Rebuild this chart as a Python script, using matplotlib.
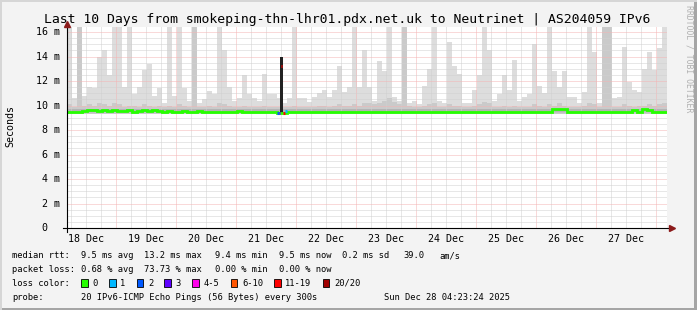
import matplotlib
matplotlib.use("Agg")
import matplotlib.pyplot as plt
import matplotlib.dates as mdates
import matplotlib.transforms as mtransforms
from matplotlib.ticker import MultipleLocator
from matplotlib.patches import Rectangle
from datetime import datetime, timedelta

# ---- data (ms), one value per 2 hour bin starting at t_start ----
t_start = datetime(2025, 12, 18, 4, 23, 24)
t_end = datetime(2025, 12, 28, 4, 23, 24)
bin_hours = 2

smoke_max = [
    16.4, 10.6, 16.4, 10.8, 11.5, 11.4, 14.0, 14.5, 12.5, 16.4, 16.4, 11.5, 16.4, 10.9, 11.5, 12.9, 13.4, 10.8, 11.4, 10.2,
    16.4, 10.8, 16.4, 11.4, 10.4, 16.4, 10.2, 10.5, 11.2, 10.9, 16.4, 14.5, 11.5, 10.4, 10.6, 12.5, 10.9, 10.6, 10.4, 12.6,
    10.9, 10.9, 10.6, 10.2, 10.6, 16.4, 10.6, 10.6, 10.3, 10.7, 11.0, 11.3, 10.7, 11.3, 13.2, 11.1, 11.5, 16.4, 11.5, 14.5,
    11.5, 10.4, 13.6, 12.8, 16.4, 10.7, 10.4, 16.4, 10.2, 10.4, 10.1, 11.6, 13.0, 16.4, 10.4, 10.2, 15.2, 13.2, 12.6, 10.2,
    10.2, 11.3, 12.5, 16.4, 14.5, 10.4, 10.9, 12.5, 11.3, 13.7, 10.4, 10.7, 10.9, 15.0, 11.6, 11.0, 16.4, 12.8, 11.5, 12.8,
    10.7, 10.7, 10.2, 11.1, 16.4, 14.4, 10.2, 16.4, 16.4, 10.6, 10.7, 14.8, 11.9, 11.3, 11.1, 13.0, 14.4, 12.9, 14.7, 16.4,
]
smoke_mid = [
    10.1, 9.9, 16.4, 10.0, 10.1, 10.0, 10.2, 10.1, 10.0, 10.2, 10.1, 9.9, 10.0, 10.0, 9.9, 10.1, 10.0, 9.9, 10.0, 9.9,
    10.0, 9.9, 10.1, 10.0, 9.9, 16.4, 9.9, 9.9, 10.0, 9.9, 10.2, 10.1, 10.0, 9.9, 9.9, 10.0, 9.9, 9.9, 9.9, 10.0,
    9.9, 9.9, 9.9, 9.9, 9.9, 10.0, 9.9, 9.9, 9.9, 9.9, 10.0, 10.0, 9.9, 10.0, 10.1, 10.0, 10.0, 10.1, 10.0, 10.2,
    10.2, 10.1, 10.2, 10.4, 10.6, 10.3, 10.1, 16.4, 10.0, 9.9, 9.9, 10.0, 10.1, 10.2, 9.9, 9.9, 10.1, 10.0, 10.0, 9.9,
    9.9, 10.0, 10.1, 10.3, 10.2, 9.9, 9.9, 10.0, 9.9, 10.0, 9.9, 9.9, 9.9, 10.1, 10.0, 9.9, 10.1, 10.0, 10.2, 10.0,
    9.9, 9.9, 9.9, 10.0, 10.2, 10.1, 9.9, 16.4, 16.4, 9.9, 9.9, 10.1, 10.0, 9.9, 10.0, 10.0, 10.1, 10.0, 10.1, 10.2,
]
median_rtt = [
    9.45, 9.45, 9.5, 9.55, 9.6, 9.6, 9.55, 9.6, 9.55, 9.6, 9.55, 9.55, 9.6, 9.5, 9.55, 9.6, 9.55, 9.6, 9.55, 9.5,
    9.55, 9.5, 9.5, 9.55, 9.5, 9.5, 9.55, 9.5, 9.5, 9.5, 9.5, 9.5, 9.5, 9.5, 9.55, 9.5, 9.5, 9.5, 9.5, 9.5,
    9.5, 9.5, 9.4, 9.4, 9.5, 9.5, 9.5, 9.5, 9.5, 9.5, 9.5, 9.5, 9.5, 9.5, 9.5, 9.5, 9.5, 9.5, 9.5, 9.5,
    9.5, 9.5, 9.5, 9.5, 9.5, 9.5, 9.5, 9.5, 9.5, 9.5, 9.5, 9.5, 9.5, 9.5, 9.5, 9.5, 9.5, 9.5, 9.5, 9.5,
    9.5, 9.5, 9.5, 9.5, 9.5, 9.5, 9.5, 9.5, 9.5, 9.5, 9.5, 9.5, 9.5, 9.5, 9.5, 9.5, 9.5, 9.7, 9.75, 9.7,
    9.5, 9.5, 9.5, 9.5, 9.5, 9.5, 9.5, 9.5, 9.5, 9.5, 9.5, 9.5, 9.5, 9.65, 9.5, 9.7, 9.6, 9.5, 9.5, 9.5,
]
smoke_floor = 9.3
dark_band = (9.38, 9.68)

# short loss events around the Dec 21 spike (hours after t_start)
event_start_h = [83.8, 84.6, 85.6, 86.4, 87.2]
event_end_h = [84.6, 85.2, 86.2, 87.2, 88.0]
event_median = [9.4, 9.4, 13.2, 9.4, 9.55]
event_loss = ["2", "3", "11-19", "11-19", "1"]
spike_h = (85.2, 86.4)
spike_range = (9.4, 14.0)

loss_labels = ["0", "1", "2", "3", "4-5", "6-10", "11-19", "20/20"]
loss_colors = ["#26ff00", "#00b8ff", "#0059ff", "#5e00ff", "#ff00ea", "#ff5500", "#ff0000", "#a10000"]
loss_swatch_x = [81, 109, 136.7, 164.3, 192.3, 230.7, 274, 322.7]

rtt_stats = ["9.5 ms avg", "13.2 ms max", "9.4 ms min", "9.5 ms now", "0.2 ms sd"]
loss_stats = ["0.68 % avg", "73.73 % max", "0.00 % min", "0.00 % now"]
stat_x = [80.7, 144.3, 215, 279.3, 342]

W, H = 697, 310
MONO = "DejaVu Sans Mono"


def px(x, y):
    return x / W, 1 - y / H


fig = plt.figure(figsize=(W / 100, H / 100), dpi=100)
fig.patch.set_facecolor("#F3F3F3")

# shaded frame
fig.add_artist(Rectangle((0, 0), 1, 2 / H, transform=fig.transFigure, color="#A5A5A5", lw=0))
fig.add_artist(Rectangle((1 - 3 / W, 0), 3 / W, 1, transform=fig.transFigure, color="#A5A5A5", lw=0))
fig.add_artist(Rectangle((0, 1 - 2 / H), 1, 2 / H, transform=fig.transFigure, color="#D6D6D6", lw=0))
fig.add_artist(Rectangle((0, 0), 2 / W, 1, transform=fig.transFigure, color="#D6D6D6", lw=0))

ax = fig.add_axes([67 / W, 82 / H, 600 / W, 201 / H])
ax.set_facecolor("white")
for s in ax.spines.values():
    s.set_visible(False)

bin_times = [t_start + timedelta(hours=bin_hours * i) for i in range(len(smoke_max))]
x = mdates.date2num(bin_times)
bw = bin_hours / 24

ax.bar(x, [v - smoke_floor for v in smoke_max], width=bw, bottom=smoke_floor,
       align="edge", color="#DDDDDD", lw=0, zorder=1)
ax.bar(x, [v - smoke_floor for v in smoke_mid], width=bw, bottom=smoke_floor,
       align="edge", color="#CACACA", lw=0, zorder=1.1)
ax.fill_between([x[0], x[-1] + bw], dark_band[0], dark_band[1], color="#B4B4B4", lw=0, zorder=1.2)

s0 = mdates.date2num(t_start + timedelta(hours=spike_h[0]))
s1 = mdates.date2num(t_start + timedelta(hours=spike_h[1]))
ax.bar(s0, spike_range[1] - spike_range[0], width=s1 - s0, bottom=spike_range[0],
       align="edge", color="#222222", lw=0, zorder=2.7)

edges = list(x) + [x[-1] + bw]
ax.stairs(median_rtt, edges, baseline=None, color=loss_colors[0], lw=2.0, zorder=3)
for a, b, m, l in zip(event_start_h, event_end_h, event_median, event_loss):
    ax.hlines(m, mdates.date2num(t_start + timedelta(hours=a)),
              mdates.date2num(t_start + timedelta(hours=b)),
              color=loss_colors[loss_labels.index(l)], lw=2.2, zorder=3.1)

ax.set_xlim(mdates.date2num(t_start), mdates.date2num(t_end))
ax.set_ylim(0, 16.41)

# grid: 1px on / 1px off dots (dash lengths scale with lw)
dots = (0, (1, 1))
ax.set_axisbelow(False)
ax.yaxis.set_major_locator(MultipleLocator(2))
ax.yaxis.set_minor_locator(MultipleLocator(0.5))
ax.xaxis.set_major_locator(mdates.HourLocator(byhour=[12]))
ax.xaxis.set_minor_locator(mdates.HourLocator(byhour=[6, 12, 18]))
ax.xaxis.remove_overlapping_locs = False
ax.xaxis.set_major_formatter(mdates.DateFormatter("%d %b"))
ax.grid(which="minor", color="#D0D0D0", lw=0.72, linestyle=dots)
ax.grid(which="major", axis="y", color="#F4B4B4", lw=0.72, linestyle=dots)
for d in range(19, 29):
    ax.axvline(mdates.date2num(datetime(2025, 12, d)), color="#F4B4B4", lw=0.72, linestyle=dots, zorder=2.5)

ax.tick_params(which="both", length=0)
ax.tick_params(axis="y", labelleft=False)
ax.tick_params(axis="x", which="major", pad=4.6, labelsize=7.2)
for lab in ax.get_xticklabels():
    lab.set_fontfamily(MONO)

ylab_tr = mtransforms.offset_copy(ax.get_yaxis_transform(), fig=fig, x=-7, y=-3, units="dots")
for v in range(0, 17, 2):
    ax.text(-0.0208 if v == 0 else 0, v, "0" if v == 0 else f"{v} m", transform=ylab_tr,
            ha="right", va="baseline", fontsize=7.2, family=MONO)

# axes with arrows
ax.plot([0, 0], [-0.02, 1.02], color="black", lw=0.8, transform=ax.transAxes, clip_on=False, zorder=4)
ax.plot([-0.007, 1.008], [0, 0], color="black", lw=0.8, transform=ax.transAxes, clip_on=False, zorder=4)
ax.plot([0], [1.016], marker="^", ms=5, color="#8B1A1A", transform=ax.transAxes, clip_on=False, zorder=5)
ax.plot([1.008], [0], marker=">", ms=5, color="#8B1A1A", transform=ax.transAxes, clip_on=False, zorder=5)

# titles
fig.text(*px(347.5, 22.7), "Last 10 Days from smokeping-thn-lhr01.pdx.net.uk to Neutrinet | AS204059 IPv6",
         ha="center", va="baseline", fontsize=9.45, family=MONO)
fig.text(*px(10.5, 126), "Seconds", rotation=90, ha="center", va="center", fontsize=7.2, family=MONO)
fig.text(*px(688.5, 59), "RRDTOOL / TOBI OETIKER", rotation=270, ha="center", va="center",
         fontsize=5.9, family=MONO, color="#B0B0B0")

# legend
fs = 6.3
rows = [258.3, 271.8, 285.8, 300]
fig.text(*px(12.3, rows[0]), "median rtt:", fontsize=fs, family=MONO, va="baseline")
for sx, t in zip(stat_x, rtt_stats):
    fig.text(*px(sx, rows[0]), t, fontsize=fs, family=MONO, va="baseline")
fig.text(*px(403, rows[0]), "39.0", fontsize=fs, family=MONO, va="baseline")
fig.text(*px(439, rows[0]), "am/s", fontsize=fs, family=MONO, va="baseline")

fig.text(*px(12.3, rows[1]), "packet loss:", fontsize=fs, family=MONO, va="baseline")
for sx, t in zip(stat_x, loss_stats):
    fig.text(*px(sx, rows[1]), t, fontsize=fs, family=MONO, va="baseline")

fig.text(*px(12.3, rows[2]), "loss color:", fontsize=fs, family=MONO, va="baseline")
for sx, lab, c in zip(loss_swatch_x, loss_labels, loss_colors):
    fig.add_artist(Rectangle(px(sx, 286.5), 6.5 / W, 8 / H, transform=fig.transFigure,
                             facecolor=c, edgecolor="black", lw=0.6))
    fig.text(*px(sx + 11.3, rows[2]), lab, fontsize=fs, family=MONO, va="baseline")

fig.text(*px(12.3, rows[3]), "probe:", fontsize=fs, family=MONO, va="baseline")
fig.text(*px(80.7, rows[3]), "20 IPv6-ICMP Echo Pings (56 Bytes) every 300s", fontsize=fs, family=MONO, va="baseline")
fig.text(*px(510.5, rows[3]), "Sun Dec 28 04:23:24 2025", fontsize=fs, family=MONO, va="baseline", ha="right")

fig.savefig("out.png", dpi=100, facecolor=fig.get_facecolor())
